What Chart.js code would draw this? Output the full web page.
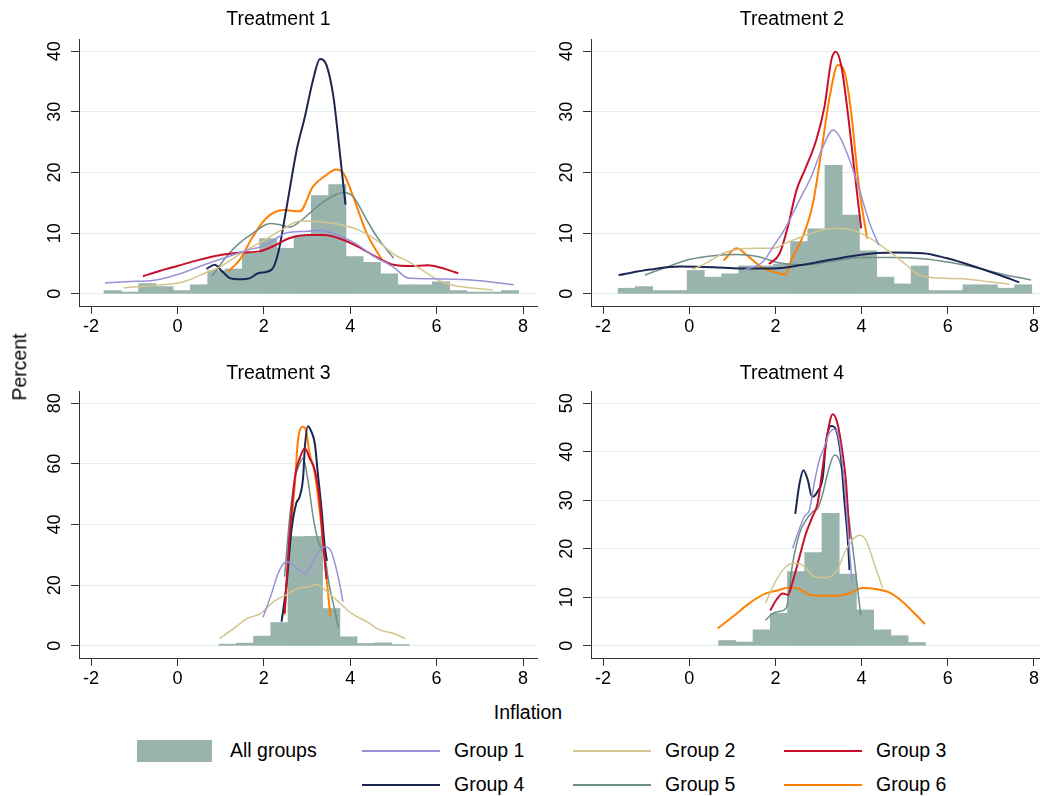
<!DOCTYPE html>
<html>
<head>
<meta charset="utf-8">
<script src="https://cdn.jsdelivr.net/npm/chart.js@4.4.1/dist/chart.umd.min.js"></script>
<style>
    body { margin: 0; background: #ffffff; }
    #page { position: relative; width: 1040px; height: 796px; overflow: hidden; background: #ffffff;
            font-family: 'Liberation Sans', Arial, sans-serif; color: #000; }
    canvas { position: absolute; }
    .txt { position: absolute; font-size: 19.5px; line-height: 1; white-space: nowrap; transform: translateY(-50%); }
    .mid { position: absolute; font-size: 19.5px; line-height: 1; white-space: nowrap; transform: translate(-50%, -50%); }
    .rot { position: absolute; font-size: 19.5px; line-height: 1; white-space: nowrap; transform: translate(-50%, -50%) rotate(-90deg); }
    .swatch { position: absolute; }
</style>
</head>
<body>
<div id="page">
    <canvas id="t1" width="520" height="345" style="left:20px;top:0px"></canvas>
    <canvas id="t2" width="496" height="345" style="left:544px;top:0px"></canvas>
    <canvas id="t3" width="520" height="345" style="left:20px;top:352px"></canvas>
    <canvas id="t4" width="496" height="345" style="left:544px;top:352px"></canvas>
    <div class="rot" style="left:19.5px;top:367px">Percent</div>
    <div class="mid" style="left:528px;top:713px">Inflation</div>
    <div id="legend"></div>
</div>
<script>
const groups = ['Group 1', 'Group 2', 'Group 3', 'Group 4', 'Group 5', 'Group 6'];
const groupColors = ['#9a90d8', '#d4c58c', '#c8102e', '#1c2652', '#6d8f86', '#ff8000'];
const groupWidths = [1.5, 1.5, 2, 2, 1.5, 2];
const barColor = '#99b4ad';
const gridColor = '#e4edf0';
const axisColor = '#333333';

const titles = ['Treatment 1', 'Treatment 2', 'Treatment 3', 'Treatment 4'];
const xTicks = [-2, 0, 2, 4, 6, 8];
const yTicks1 = [0, 10, 20, 30, 40];
const yTicks2 = [0, 10, 20, 30, 40];
const yTicks3 = [0, 20, 40, 60, 80];
const yTicks4 = [0, 10, 20, 30, 40, 50];

// histogram (percent), bins of width 0.4
const binWidth = 0.4;
const bins1Start = -1.7;
const bins1 = [0.55, 0.3, 1.7, 1.2, 0.55, 1.5, 3.85, 4.1, 6.7, 9.1, 7.5, 9.6,
               16.2, 18.0, 6.15, 5.2, 3.3, 1.5, 1.5, 2.0, 0.55, 0.3, 0.3, 0.55];
const bins2Start = -1.65;
const bins2 = [0.93, 1.2, 0.55, 0.55, 3.85, 2.75, 3.3, 4.6, 4.6, 4.9, 8.6, 10.7,
               21.2, 13.0, 7.1, 2.75, 1.65, 4.6, 0.55, 0.55, 1.5, 1.5, 0.93, 1.5];
const bins3Start = 0.96;
const bins3 = [0.55, 0.9, 3.2, 7.7, 36.0, 36.1, 12.3, 3.0, 0.8, 1.0, 0.44];
const bins4Start = 0.68;
const bins4 = [1.1, 0.8, 3.3, 6.7, 15.3, 19.2, 27.3, 14.8, 7.4, 3.3, 2.1, 0.7];

// density curves per group, [inflation, percent]
const t1g1 = [[-1.68, 1.8], [-1.2, 2.0], [-0.5, 2.3], [0, 3.2], [0.7, 5.0], [1.2, 6.2], [1.6, 7.2], [1.9, 7.7],
              [2.2, 8.7], [2.5, 10.0], [3.0, 10.3], [3.3, 10.5], [3.6, 10.0], [4.1, 8.4], [4.5, 6.4], [5.0, 4.4],
              [5.35, 2.6], [5.8, 2.5], [6.8, 2.3], [7.78, 1.5]];
const t1g2 = [[-1.25, 1.0], [-0.5, 1.4], [0.1, 1.9], [0.7, 3.6], [1.0, 4.5], [1.45, 6.6], [1.9, 8.4], [2.4, 10.5],
              [2.85, 12.0], [3.3, 11.9], [3.7, 11.5], [4.2, 10.5], [4.6, 8.9], [5.0, 6.6], [5.4, 5.1], [5.8, 3.3],
              [6.15, 1.9], [6.55, 1.2], [7.3, 0.65]];
const t1g3 = [[-0.8, 2.9], [-0.4, 3.8], [0, 4.6], [0.5, 5.6], [1.0, 6.4], [1.5, 6.8], [1.9, 7.0], [2.2, 7.8],
              [2.6, 9.2], [3.0, 9.7], [3.4, 9.7], [3.8, 9.0], [4.2, 7.7], [4.6, 6.1], [5.0, 4.8], [5.4, 4.6],
              [5.8, 4.7], [6.1, 4.3], [6.5, 3.4]];
const t1g4 = [[0.67, 4.1], [0.86, 4.8], [1.05, 3.6], [1.21, 2.6], [1.44, 2.4], [1.68, 2.6], [1.87, 3.4], [2.18, 4.0],
              [2.33, 6.7], [2.53, 14.4], [2.76, 23.7], [2.95, 29.2], [3.14, 35.3], [3.3, 38.7], [3.45, 37.7],
              [3.61, 32.5], [3.76, 23.2], [3.89, 14.7]];
const t1g5 = [[0.81, 3.0], [1.14, 6.2], [1.44, 8.4], [1.75, 10.0], [2.14, 11.6], [2.37, 11.4], [2.6, 11.0],
              [2.83, 11.9], [3.14, 13.8], [3.45, 15.5], [3.84, 16.7], [4.07, 16.0], [4.38, 12.2], [4.61, 9.5],
              [5.0, 5.9]];
const t1g6 = [[1.17, 3.7], [1.44, 5.6], [1.75, 9.5], [2.06, 12.5], [2.45, 13.8], [2.83, 13.6], [3.14, 17.7],
              [3.45, 19.6], [3.67, 20.5], [3.84, 19.9], [4.07, 16.0], [4.38, 10.0], [4.76, 5.3]];

const t2g1 = [[1.29, 4.0], [1.71, 5.3], [1.95, 7.8], [2.25, 11.1], [2.56, 15.5], [2.83, 19.3], [3.07, 23.7],
              [3.34, 27.0], [3.49, 25.9], [3.72, 22.1], [3.95, 17.1], [4.19, 11.6], [4.4, 8.0]];
const t2g2 = [[0.07, 4.0], [0.4, 5.1], [0.79, 6.7], [1.17, 7.4], [1.56, 7.5], [1.95, 7.5], [2.25, 8.4], [2.72, 9.7],
              [3.18, 10.7], [3.49, 10.8], [3.88, 10.3], [4.26, 8.9], [4.73, 6.5], [5.03, 4.8], [5.34, 3.1],
              [5.81, 2.6], [6.35, 2.5], [6.96, 2.0], [7.43, 1.6]];
const t2g3 = [[1.85, 4.9], [2.1, 6.7], [2.29, 11.1], [2.49, 17.1], [2.68, 20.4], [2.95, 25.4], [3.14, 30.9],
              [3.3, 38.6], [3.4, 39.9], [3.53, 37.5], [3.68, 29.8], [3.84, 19.9], [3.99, 10.8]];
const t2g4 = [[-1.64, 3.1], [-0.91, 4.0], [-0.22, 4.5], [0.56, 4.4], [1.17, 4.2], [1.95, 4.2], [2.56, 4.7],
              [3.34, 5.7], [3.95, 6.4], [4.73, 6.8], [5.42, 6.7], [5.96, 5.9], [6.58, 4.6], [7.2, 3.1], [7.66, 1.9]];
const t2g5 = [[-1.03, 3.1], [-0.6, 4.2], [0.02, 5.7], [0.56, 6.3], [1.1, 6.5], [1.56, 6.2], [2.1, 5.1], [2.72, 4.8],
              [3.34, 5.4], [3.95, 6.0], [4.65, 6.0], [5.42, 5.8], [6.04, 5.2], [6.73, 4.2], [7.35, 3.1], [7.93, 2.3]];
const t2g6 = [[0.8, 5.5], [1.1, 7.5], [1.33, 6.4], [1.6, 4.8], [1.79, 4.0], [2.03, 3.5], [2.23, 3.2], [2.37, 5.6],
              [2.64, 9.5], [2.87, 14.9], [3.07, 23.7], [3.26, 32.5], [3.45, 37.7], [3.61, 36.4], [3.76, 29.8],
              [3.92, 18.8], [4.03, 13.3], [4.13, 9.1]];

const t3g1 = [[1.98, 9.4], [2.18, 17.3], [2.33, 23.9], [2.52, 27.8], [2.68, 26.7], [2.83, 24.8], [2.95, 23.7],
              [3.06, 25.6], [3.25, 30.5], [3.41, 32.7], [3.56, 31.1], [3.72, 22.8], [3.83, 14.6]];
const t3g2 = [[0.97, 2.4], [1.3, 5.7], [1.61, 9.0], [1.92, 10.6], [2.22, 14.5], [2.53, 16.9], [2.84, 19.2],
              [3.03, 19.4], [3.19, 20.2], [3.38, 18.9], [3.69, 15.0], [4.04, 10.6], [4.39, 7.9], [4.69, 5.2],
              [5.0, 4.1], [5.27, 2.4]];
const t3g3 = [[2.48, 10.8], [2.6, 37.1], [2.72, 55.7], [2.83, 61.8], [2.95, 65.1], [3.06, 61.8], [3.18, 57.9],
              [3.29, 48.1], [3.37, 34.9], [3.45, 22.0]];
const t3g4 = [[2.41, 8.0], [2.52, 19.5], [2.64, 38.2], [2.75, 47.0], [2.83, 49.2], [2.91, 55.7], [2.95, 65.6],
              [3.02, 72.4], [3.1, 70.6], [3.18, 66.7], [3.25, 56.8], [3.33, 45.9], [3.41, 32.7], [3.46, 28.0]];
const t3g5 = [[2.48, 22.8], [2.6, 42.6], [2.72, 55.2], [2.83, 60.1], [2.91, 61.8], [3.02, 54.6], [3.14, 42.6],
              [3.25, 34.9], [3.41, 29.4], [3.52, 19.5], [3.64, 11.9], [3.73, 5.8]];
const t3g6 = [[2.48, 10.2], [2.6, 34.9], [2.72, 53.6], [2.79, 67.8], [2.91, 72.2], [2.98, 70.6], [3.06, 63.4],
              [3.18, 56.8], [3.29, 44.8], [3.41, 28.3], [3.54, 9.7]];

const t4g1 = [[2.4, 20.1], [2.52, 23.2], [2.67, 26.6], [2.79, 28.0], [2.9, 33.5], [3.02, 38.3], [3.14, 41.0],
              [3.25, 43.8], [3.37, 44.6], [3.48, 42.4], [3.6, 33.5], [3.7, 21.8], [3.78, 12.9]];
const t4g2 = [[1.77, 8.8], [1.94, 12.2], [2.17, 15.6], [2.4, 17.0], [2.56, 16.9], [2.71, 16.0], [2.9, 14.3],
              [3.17, 14.1], [3.41, 15.3], [3.64, 19.8], [3.83, 22.2], [3.95, 22.8], [4.1, 21.8], [4.29, 17.0],
              [4.49, 11.9]];
const t4g3 = [[1.88, 7.3], [2.03, 9.6], [2.17, 10.8], [2.29, 10.5], [2.4, 13.2], [2.56, 18.4], [2.71, 23.2],
              [2.86, 26.6], [2.98, 29.4], [3.1, 36.9], [3.21, 43.8], [3.33, 47.7], [3.44, 45.8], [3.56, 39.6],
              [3.64, 33.5], [3.72, 22.0]];
const t4g4 = [[2.46, 27.2], [2.56, 33.5], [2.65, 36.2], [2.75, 34.2], [2.85, 30.7], [2.98, 31.8], [3.1, 34.8],
              [3.17, 41.7], [3.29, 45.3], [3.41, 44.4], [3.52, 39.0], [3.6, 30.0], [3.68, 21.8], [3.72, 15.6]];
const t4g5 = [[1.77, 5.3], [1.94, 6.7], [2.09, 7.1], [2.25, 7.8], [2.4, 17.0], [2.56, 23.2], [2.71, 25.9],
              [2.86, 27.6], [2.98, 28.3], [3.1, 31.4], [3.21, 35.5], [3.37, 39.3], [3.48, 38.3], [3.6, 33.5],
              [3.71, 25.9], [3.83, 17.7], [3.91, 11.5], [3.98, 6.4]];
const t4g6 = [[0.66, 3.6], [1.01, 6.0], [1.4, 8.8], [1.78, 10.8], [2.09, 11.5], [2.32, 12.0], [2.56, 11.7],
              [2.79, 10.5], [3.1, 10.3], [3.41, 10.3], [3.71, 10.8], [4.02, 11.9], [4.33, 11.7], [4.64, 11.0],
              [4.95, 9.1], [5.26, 6.4], [5.47, 4.5]];

const fontFamily = "'Liberation Sans', Arial, sans-serif";

function binPoints(start, heights) {
    return heights.map((h, i) => ({ x: start + binWidth * (i + 0.5), y: h }));
}

function curvePoints(arr) {
    return arr.map(([x, y]) => ({ x, y }));
}

function drawPanel(id, panel) {
    const canvas = document.getElementById(id);
    if (!canvas) {
        return;
    }

    const datasets = panel.curves.map((c, i) => ({
        type: 'line',
        label: groups[i],
        data: curvePoints(c),
        borderColor: groupColors[i],
        borderWidth: groupWidths[i],
        pointRadius: 0,
        cubicInterpolationMode: 'monotone',
        fill: false,
        order: i,
    }));
    datasets.push({
        type: 'bar',
        label: 'All groups',
        data: binPoints(panel.binStart, panel.bins),
        backgroundColor: barColor,
        borderWidth: 0,
        barPercentage: 1,
        categoryPercentage: 1,
        order: 10,
    });

    new Chart(canvas.getContext('2d'), {
        type: 'line',
        data: { datasets },
        options: {
            responsive: false,
            animation: false,
            events: [],
            layout: { padding: { right: panel.padRight } },
            plugins: {
                legend: { display: false },
                tooltip: { enabled: false },
                title: {
                    display: true,
                    text: panel.title,
                    color: '#000000',
                    font: { family: fontFamily, size: 19.5, weight: 'normal' },
                    padding: panel.titlePad,
                },
            },
            scales: {
                x: {
                    type: 'linear',
                    min: panel.xMin,
                    max: panel.xMax,
                    offset: false,
                    afterBuildTicks: (s) => { s.ticks = xTicks.map((v) => ({ value: v })); },
                    afterFit: (s) => { s.height = 39; s.paddingLeft = 0; s.paddingRight = 0; },
                    grid: {
                        offset: false,
                        drawOnChartArea: false,
                        drawTicks: true,
                        tickLength: 8,
                        tickColor: axisColor,
                    },
                    border: { color: axisColor, width: 1 },
                    ticks: {
                        color: '#000000',
                        font: { family: fontFamily, size: 18 },
                        padding: 2,
                        minRotation: 0,
                        maxRotation: 0,
                        autoSkip: false,
                        callback: (v) => String(v),
                    },
                },
                y: {
                    min: panel.yMin,
                    max: panel.yMax,
                    afterBuildTicks: (s) => { s.ticks = panel.yTicks.map((v) => ({ value: v })); },
                    afterFit: (s) => { s.width = panel.yAxisW; s.paddingTop = 0; s.paddingBottom = 0; },
                    grid: {
                        color: gridColor,
                        lineWidth: 1,
                        drawTicks: true,
                        tickLength: 8,
                        tickColor: axisColor,
                    },
                    border: { color: axisColor, width: 1 },
                    ticks: {
                        color: '#000000',
                        font: { family: fontFamily, size: 18 },
                        padding: 6,
                        minRotation: 90,
                        maxRotation: 90,
                        crossAlign: 'center',
                        autoSkip: false,
                        callback: (v) => String(v),
                    },
                },
            },
        },
    });
}

const topPad = { top: 8.3, bottom: 7.3 };
const bottomPad = { top: 10.3, bottom: 5.3 };

drawPanel('t1', {
    title: titles[0], titlePad: topPad, padRight: 3, yAxisW: 59,
    xMin: -2.28, xMax: 8.324, yMin: -2, yMax: 42, yTicks: yTicks1,
    binStart: bins1Start, bins: bins1,
    curves: [t1g1, t1g2, t1g3, t1g4, t1g5, t1g6],
});
drawPanel('t2', {
    title: titles[1], titlePad: topPad, padRight: 0, yAxisW: 47,
    xMin: -2.28, xMax: 8.14, yMin: -2, yMax: 42, yTicks: yTicks2,
    binStart: bins2Start, bins: bins2,
    curves: [t2g1, t2g2, t2g3, t2g4, t2g5, t2g6],
});
drawPanel('t3', {
    title: titles[2], titlePad: bottomPad, padRight: 3, yAxisW: 59,
    xMin: -2.28, xMax: 8.324, yMin: -4, yMax: 84, yTicks: yTicks3,
    binStart: bins3Start, bins: bins3,
    curves: [t3g1, t3g2, t3g3, t3g4, t3g5, t3g6],
});
drawPanel('t4', {
    title: titles[3], titlePad: bottomPad, padRight: 0, yAxisW: 47,
    xMin: -2.28, xMax: 8.14, yMin: -2.5, yMax: 52.5, yTicks: yTicks4,
    binStart: bins4Start, bins: bins4,
    curves: [t4g1, t4g2, t4g3, t4g4, t4g5, t4g6],
});

// shared legend below the panels
const legend = document.getElementById('legend');
const legendCols = [362, 573, 784];
const legendRows = [751, 785];
let html = '<div class="swatch" style="left:137px;top:740px;width:75px;height:22px;background:' + barColor + '"></div>'
    + '<div class="txt" style="left:230px;top:751px">All groups</div>';
groups.forEach((g, i) => {
    const x = legendCols[i % 3];
    const y = legendRows[Math.floor(i / 3)];
    html += '<div class="swatch" style="left:' + x + 'px;top:' + (y - 1) + 'px;width:78px;height:2px;background:'
        + groupColors[i] + '"></div>';
    html += '<div class="txt" style="left:' + (x + 92) + 'px;top:' + y + 'px">' + g + '</div>';
});
legend.innerHTML = html;
</script>
</body>
</html>
